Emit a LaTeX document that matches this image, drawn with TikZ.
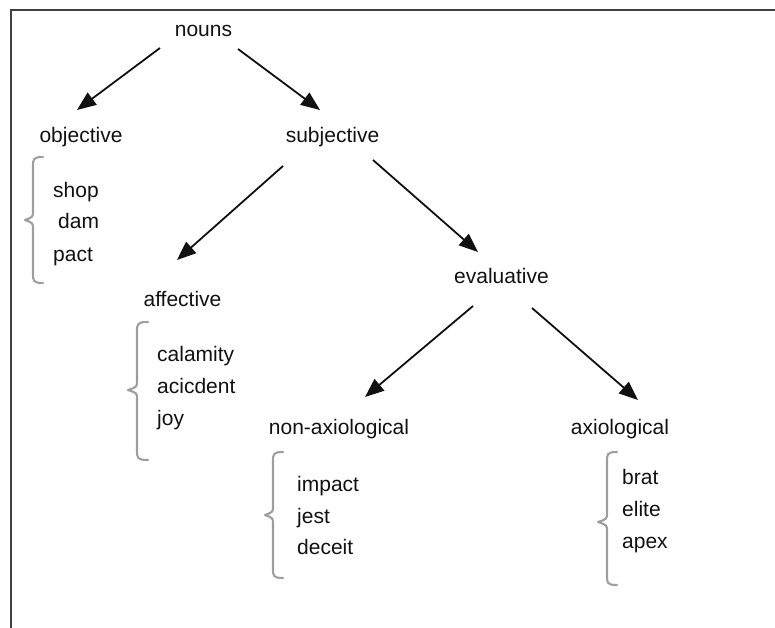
\documentclass[tikz,border=0pt]{standalone}
\usepackage{fontspec}
\setmainfont{Liberation Sans}
\usetikzlibrary{arrows.meta,calc}
\definecolor{inkc}{HTML}{111111}
\definecolor{framec}{HTML}{404040}
\definecolor{bracec}{HTML}{9E9E9E}
\begin{document}
\begin{tikzpicture}[x=1pt,y=-1pt,
    term/.style={inner sep=0pt,anchor=base,text=inkc,font=\fontsize{21}{25}\selectfont},
    word/.style={inner sep=0pt,anchor=base west,text=inkc,font=\fontsize{21}{25}\selectfont},
    arr/.style={draw=inkc,line width=1.8pt,-{Triangle[length=19pt,width=15pt]}},
    listbrace/.style={draw=bracec,line width=2.1pt,line cap=round,line join=round},
    frameline/.style={draw=framec,line width=2.6pt}]
  \useasboundingbox (0,0) rectangle (775,628);

  % open frame: left and top edges
  \draw[frameline] (11,628) -- (11,10) -- (775,10);

  % category labels
  \node[term] (nouns) at (203.5,37) {nouns};
  \node[term] (objective) at (81,143) {objective};
  \node[term] (subjective) at (332.5,143) {subjective};
  \node[term] (affective) at (182.5,306) {affective};
  \node[term] (evaluative) at (501.5,283) {evaluative};
  \node[term] (nonaxio) at (339,434) {non-axiological};
  \node[term] (axio) at (620,434) {axiological};

  % example words
  \node[word] (w1) at (53,197) {shop};
  \node[word] (w2) at (58,229) {dam};
  \node[word] (w3) at (53,261) {pact};
  \node[word] (w4) at (157,361) {calamity};
  \node[word] (w5) at (157,393) {acicdent};
  \node[word] (w6) at (157,425) {joy};
  \node[word] (w7) at (297,491) {impact};
  \node[word] (w8) at (297,523) {jest};
  \node[word] (w9) at (297,554) {deceit};
  \node[word] (w10) at (622,484) {brat};
  \node[word] (w11) at (622,516) {elite};
  \node[word] (w12) at (622,548) {apex};

  % arrows of the hierarchy
  \draw[arr] ($(nouns.base)+(-43.5,11)$) -- ($(objective.base)+(-4,-33)$);
  \draw[arr] ($(nouns.base)+(34.5,12)$) -- ($(subjective.base)+(-12.5,-33)$);
  \draw[arr] ($(subjective.base)+(-49.5,23)$) -- ($(affective.base)+(-5.5,-46)$);
  \draw[arr] ($(subjective.base)+(40.5,17)$) -- ($(evaluative.base)+(-23.5,-31)$);
  \draw[arr] ($(evaluative.base)+(-28.5,23)$) -- ($(nonaxio.base)+(26,-37)$);
  \draw[arr] ($(evaluative.base)+(30.5,25)$) -- ($(axio.base)+(18,-34)$);

  % curly braces grouping the examples
  % args: end x, stem x, tip x, top y, tip y, bottom y
  \newcommand{\groupbrace}[6]{%
    \draw[listbrace] (#1,#4) .. controls (#2,#4) and (#2,#4+2) .. (#2,#4+10)
      -- (#2,#5-9) .. controls (#2,#5-3) .. (#3,#5)
      .. controls (#2,#5+3) .. (#2,#5+9)
      -- (#2,#6-10) .. controls (#2,#6-2) and (#2,#6) .. (#1,#6);}
  \groupbrace{43}{33}{25}{157}{220}{283}
  \groupbrace{148}{137}{128}{322}{390}{460}
  \groupbrace{283}{273}{265}{452}{515}{578}
  \groupbrace{617}{607}{598}{452}{522}{585}
\end{tikzpicture}
\end{document}
